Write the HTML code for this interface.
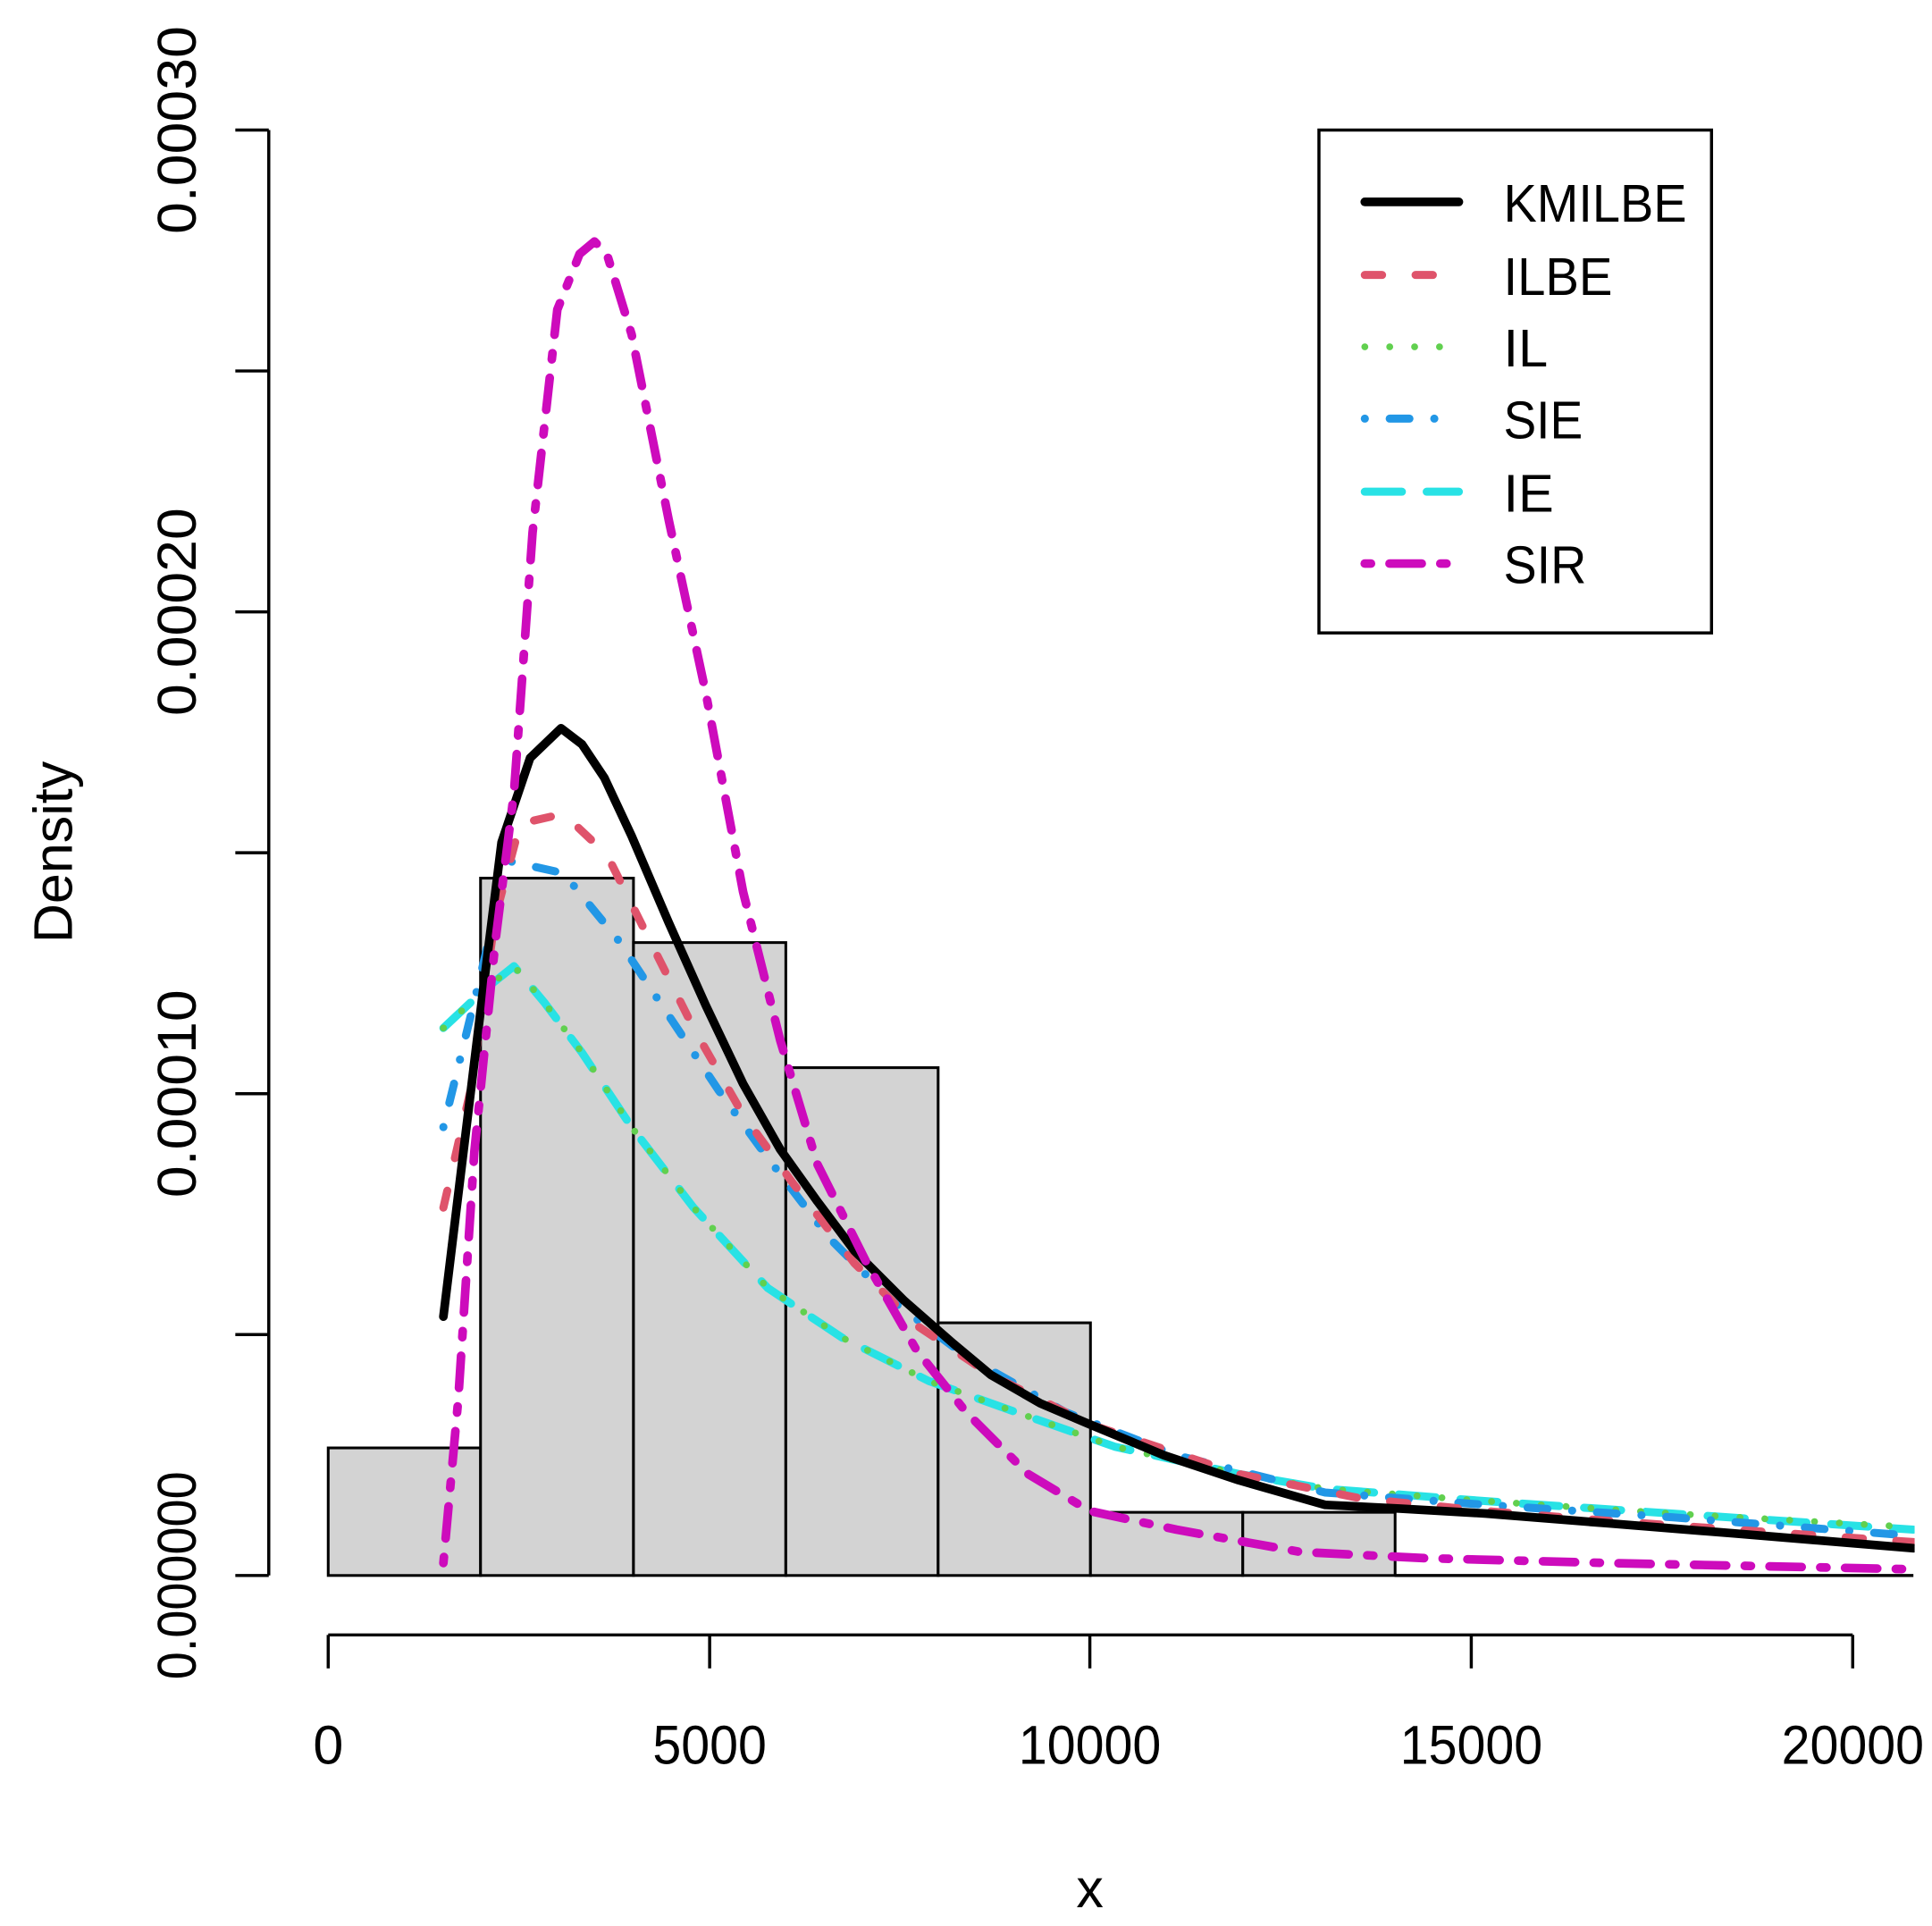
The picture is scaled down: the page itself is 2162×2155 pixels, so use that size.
<!DOCTYPE html>
<html><head><meta charset="utf-8"><style>html,body{margin:0;padding:0;background:#fff}svg{display:block}</style></head>
<body>
<svg width="2162" height="2155" viewBox="0 0 1560 1555" xmlns="http://www.w3.org/2000/svg" font-family="Liberation Sans, sans-serif">
<rect x="0" y="0" width="1560" height="1555" fill="#fff"/>
<g fill="#d3d3d3" stroke="#000" stroke-width="2.2">
<rect x="265" y="1169" width="123" height="103"/>
<rect x="388" y="709" width="123.5" height="563"/>
<rect x="511.5" y="761" width="123" height="511"/>
<rect x="634.5" y="862" width="123" height="410"/>
<rect x="757.5" y="1068" width="123" height="204"/>
<rect x="880.5" y="1221" width="123" height="51"/>
<rect x="1003.5" y="1221" width="123" height="51"/>
</g>
<line x1="1126" y1="1272" x2="1545" y2="1272" stroke="#000" stroke-width="2.5"/>
<g stroke="#000" stroke-width="2.5" fill="none">
<line x1="217" y1="105" x2="217" y2="1272"/>
<line x1="190" y1="105" x2="217" y2="105"/>
<line x1="190" y1="299.5" x2="217" y2="299.5"/>
<line x1="190" y1="494" x2="217" y2="494"/>
<line x1="190" y1="688.5" x2="217" y2="688.5"/>
<line x1="190" y1="883" x2="217" y2="883"/>
<line x1="190" y1="1077.5" x2="217" y2="1077.5"/>
<line x1="190" y1="1272" x2="217" y2="1272"/>
<line x1="265" y1="1320" x2="1496" y2="1320"/>
<line x1="265" y1="1320" x2="265" y2="1347"/>
<line x1="573" y1="1320" x2="573" y2="1347"/>
<line x1="880" y1="1320" x2="880" y2="1347"/>
<line x1="1188" y1="1320" x2="1188" y2="1347"/>
<line x1="1496" y1="1320" x2="1496" y2="1347"/>
</g>
<g font-size="44" fill="#000" text-anchor="middle">
<text transform="translate(158,105) rotate(-90)" textLength="168" lengthAdjust="spacingAndGlyphs">0.00030</text>
<text transform="translate(158,494) rotate(-90)" textLength="168" lengthAdjust="spacingAndGlyphs">0.00020</text>
<text transform="translate(158,883) rotate(-90)" textLength="168" lengthAdjust="spacingAndGlyphs">0.00010</text>
<text transform="translate(158,1272) rotate(-90)" textLength="168" lengthAdjust="spacingAndGlyphs">0.000000</text>
<text x="265" y="1424">0</text>
<text x="573" y="1424" textLength="92" lengthAdjust="spacingAndGlyphs">5000</text>
<text x="880" y="1424" textLength="115" lengthAdjust="spacingAndGlyphs">10000</text>
<text x="1188" y="1424" textLength="115" lengthAdjust="spacingAndGlyphs">15000</text>
<text x="1496" y="1424" textLength="115" lengthAdjust="spacingAndGlyphs">20000</text>
<text x="880" y="1540">x</text>
<text transform="translate(58,688) rotate(-90)">Density</text>
</g>
<defs><clipPath id="c"><rect x="0" y="0" width="1546" height="1555"/></clipPath></defs>
<g clip-path="url(#c)" fill="none" stroke-linecap="round" stroke-linejoin="round">
<polyline stroke="#28e2e5" stroke-width="6.5" stroke-dasharray="30 20" points="358,830 390,800 415,780 440,810 470,850 510,910 560,975 620,1040 680,1080 750,1115 820,1140 900,1168 1000,1190 1070,1202 1200,1212 1350,1222 1545,1235"/>
<polyline stroke="#61d04f" stroke-width="5.5" stroke-dasharray="0.1 20" points="358,830 390,800 415,780 440,810 470,850 510,910 560,975 620,1040 680,1080 750,1115 820,1140 900,1168 1000,1190 1070,1202 1200,1212 1350,1222 1545,1233"/>
<polyline stroke="#2297e6" stroke-width="6.5" stroke-dasharray="0.1 20 16 20" points="358,910 385,800 410,695 455,705 500,760 540,820 580,880 620,935 670,1000 720,1050 780,1095 860,1140 950,1175 1070,1205 1200,1215 1350,1225 1545,1240"/>
<polyline stroke="#df536b" stroke-width="6.5" stroke-dasharray="14 27" points="358,975 380,880 400,740 420,665 455,657 490,690 520,750 560,830 600,900 640,955 690,1020 740,1070 800,1110 880,1150 1000,1190 1100,1210 1200,1220 1300,1228 1400,1235 1545,1245"/>
<polyline stroke="#000" stroke-width="7" points="358,1063 390,800 405,680 428,612 453,588 470,601 488,628 510,675 540,745 570,812 600,875 630,928 660,970 690,1010 730,1050 770,1085 800,1110 840,1133 880,1150 940,1175 1000,1195 1070,1215 1130,1218 1200,1222 1300,1230 1400,1238 1545,1250"/>
<polyline stroke="#cd0bbc" stroke-width="7" stroke-dasharray="5 15 26 15" points="358,1262 370,1130 383,930 400,760 415,640 430,430 450,250 468,205 480,195 490,205 510,270 540,420 570,560 600,720 630,840 660,940 700,1020 740,1090 780,1140 830,1190 880,1220 950,1235 1050,1253 1150,1258 1300,1262 1545,1267"/>
</g>
<rect x="1065" y="105" width="317" height="406" fill="#fff" stroke="#000" stroke-width="2.5"/>
<g fill="none" stroke-linecap="round">
<line x1="1102" y1="163" x2="1178" y2="163" stroke="#000" stroke-width="7"/>
<line x1="1102" y1="222" x2="1178" y2="222" stroke="#df536b" stroke-width="6.5" stroke-dasharray="14 27"/>
<line x1="1102" y1="280" x2="1178" y2="280" stroke="#61d04f" stroke-width="5.5" stroke-dasharray="0.1 20"/>
<line x1="1102" y1="338" x2="1178" y2="338" stroke="#2297e6" stroke-width="6.5" stroke-dasharray="0.1 20 16 20"/>
<line x1="1102" y1="397" x2="1178" y2="397" stroke="#28e2e5" stroke-width="6.5" stroke-dasharray="30 20"/>
<line x1="1102" y1="455" x2="1178" y2="455" stroke="#cd0bbc" stroke-width="7" stroke-dasharray="5 15 26 15"/>
</g>
<g font-size="43" fill="#000">
<text x="1214" y="179" textLength="148" lengthAdjust="spacingAndGlyphs">KMILBE</text>
<text x="1214" y="238" textLength="88" lengthAdjust="spacingAndGlyphs">ILBE</text>
<text x="1214" y="296">IL</text>
<text x="1214" y="354" textLength="64" lengthAdjust="spacingAndGlyphs">SIE</text>
<text x="1214" y="413">IE</text>
<text x="1214" y="471" textLength="67" lengthAdjust="spacingAndGlyphs">SIR</text>
</g>
</svg>
</body></html>
